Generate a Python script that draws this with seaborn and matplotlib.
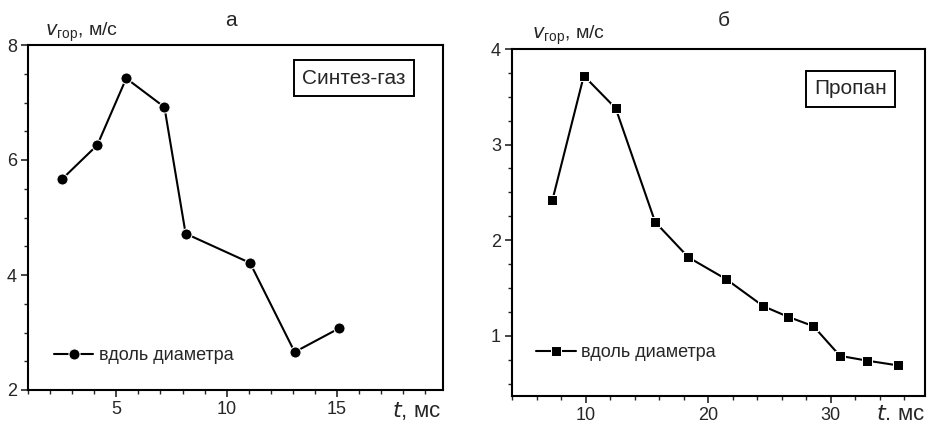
import numpy as np
import pandas as pd
import seaborn as sns
import matplotlib.pyplot as plt
from matplotlib.ticker import MultipleLocator

# Panel a: syngas
t_syngas = [2.55, 4.14, 5.45, 7.18, 8.14, 11.06, 13.08, 15.08]
v_syngas = [5.67, 6.26, 7.42, 6.92, 4.72, 4.21, 2.66, 3.07]

# Panel b: propane
t_propane = [7.3, 9.86, 12.46, 15.68, 18.4, 21.5, 24.5, 26.5, 28.6, 30.76, 32.97, 35.5]
v_propane = [2.42, 3.72, 3.38, 2.19, 1.82, 1.59, 1.31, 1.20, 1.10, 0.79, 0.74, 0.69]

legend_label = 'вдоль диаметра'

sns.set_style('ticks')
plt.rcParams['font.family'] = ['Liberation Sans', 'DejaVu Sans']

fig = plt.figure(figsize=(9.27, 4.25), dpi=100)
W, H = 927, 425


def make_axes(x0, x1, y0, y1):
    return fig.add_axes([x0 / W, 1 - y1 / H, (x1 - x0) / W, (y1 - y0) / H])


ax1 = make_axes(28, 443, 45, 390)
ax2 = make_axes(512, 925, 49, 396)

df1 = pd.DataFrame({'t': t_syngas, 'v': v_syngas})
df2 = pd.DataFrame({'t': t_propane, 'v': v_propane})

sns.lineplot(data=df1, x='t', y='v', ax=ax1, color='black', marker='o', markersize=8,
             linewidth=1.5, label=legend_label, sort=False)
sns.lineplot(data=df2, x='t', y='v', ax=ax2, color='black', marker='s', markersize=7,
             linewidth=1.5, label=legend_label, sort=False)

ax1.set_xlim(1, 19.8)
ax1.set_ylim(2, 8)
ax1.xaxis.set_major_locator(MultipleLocator(5))
ax1.xaxis.set_minor_locator(MultipleLocator(1))
ax1.yaxis.set_major_locator(MultipleLocator(2))
ax1.yaxis.set_minor_locator(MultipleLocator(0.5))

ax2.set_xlim(4, 37.7)
ax2.set_ylim(0.37, 4)
ax2.xaxis.set_major_locator(MultipleLocator(10))
ax2.xaxis.set_minor_locator(MultipleLocator(2))
ax2.yaxis.set_major_locator(MultipleLocator(1))
ax2.yaxis.set_minor_locator(MultipleLocator(0.25))

legend_pos = {ax1: (0.062, 0.10), ax2: (0.058, 0.124)}

for ax in (ax1, ax2):
    ax.set_xlabel('')
    ax.set_ylabel('')
    for s in ax.spines.values():
        s.set_visible(True)
        s.set_color('black')
        s.set_linewidth(1.5)
    ax.tick_params(which='major', direction='out', length=5, width=1.2, labelsize=13, pad=3)
    ax.tick_params(which='minor', direction='out', length=3, width=1)
    ax.legend(loc='center left', bbox_to_anchor=legend_pos[ax], frameon=False,
              fontsize=13, handlelength=2.2, handletextpad=0.3, borderaxespad=0,
              borderpad=0)

# y axis titles
ax1.text(45 / W, 1 - 32 / H, r'$v_{\mathregular{гор}}$, м/с', transform=fig.transFigure,
         fontsize=14, ha='left', va='center')
ax2.text(532 / W, 1 - 35 / H, r'$v_{\mathregular{гор}}$, м/с', transform=fig.transFigure,
         fontsize=14, ha='left', va='center')

# x axis titles
fig.text(441 / W, 1 - 411 / H, r'$t$, мс', fontsize=16, ha='right', va='center')
fig.text(925 / W, 1 - 414 / H, r'$t$. мс', fontsize=16, ha='right', va='center')

# panel letters
fig.text(231 / W, 1 - 20 / H, 'а', fontsize=15, ha='center', va='center')
fig.text(724 / W, 1 - 20 / H, 'б', fontsize=15, ha='center', va='center')

# gas labels in boxes
box = dict(boxstyle='square,pad=0.4', facecolor='white', edgecolor='black', linewidth=1.4)
ax1.text(0.785, 0.904, 'Синтез-газ', transform=ax1.transAxes, fontsize=15,
         ha='center', va='center', bbox=box)
ax2.text(0.82, 0.885, 'Пропан', transform=ax2.transAxes, fontsize=15,
         ha='center', va='center', bbox=box)

fig.savefig('out.png', dpi=100, facecolor='white')
